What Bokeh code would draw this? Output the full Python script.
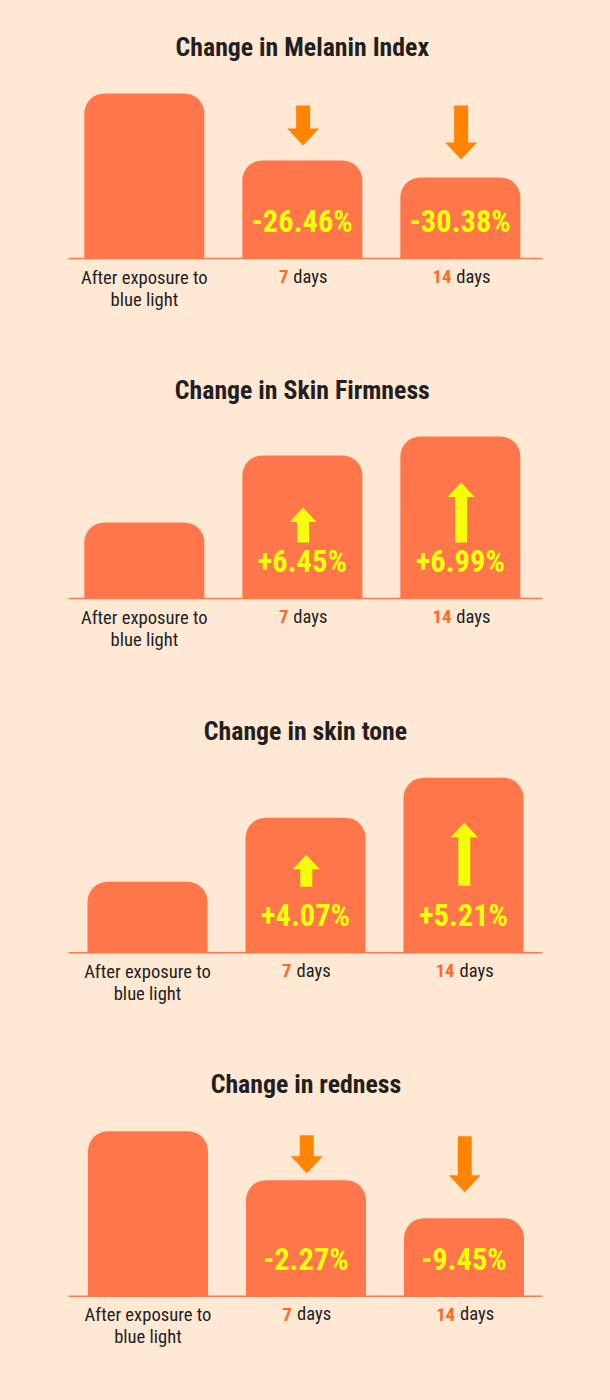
from bokeh.plotting import figure
from bokeh.layouts import column
from bokeh.embed import file_html
from bokeh.resources import INLINE
from bokeh.models import Range1d, Span
from bokeh.core.properties import value

# ---------------- data ----------------
titles = ["Change in Melanin Index", "Change in Skin Firmness", "Change in skin tone", "Change in redness"]
categories = ["After exposure to\nblue light", "7 days", "14 days"]
day_numbers = ["7", "14"]
day_unit = "days"
# relative bar heights (after exposure, 7 days, 14 days)
melanin_bars = [165, 98, 81]
firmness_bars = [76, 143, 162]
tone_bars = [71, 135, 175]
redness_bars = [165, 116, 78]
# printed changes vs. after-exposure
melanin_change = ["-26.46%", "-30.38%"]
firmness_change = ["+6.45%", "+6.99%"]
tone_change = ["+4.07%", "+5.21%"]
redness_change = ["-2.27%", "-9.45%"]

# ---------------- styles ----------------
BG = "#FFE8D4"
BAR = "#FF764A"
DOWN = "#FF8500"
UP = "#F5FF0A"
NUM = "#FF6A2A"
DARK = "#231F1F"
FONT = value("Roboto Condensed")

W = 594
BL, BR = 60, 60
FRAME_W = W - BL - BR
UX = FRAME_W / 3.0  # px per category unit

panels = [
    dict(bars=melanin_bars, change=melanin_change, h=337, lo=-87, hi=250, shift=0.02, title_y=212,
         arrows=[(153, 113), (153, 99)]),
    dict(bars=firmness_bars, change=firmness_change, h=340, lo=-87, hi=253, shift=0.02, title_y=209,
         arrows=[(56, 91), (56, 116)]),
    dict(bars=tone_bars, change=tone_change, h=355, lo=-87.7, hi=267.3, shift=0.0, title_y=222,
         arrows=[(66, 98), (67, 130)]),
    dict(bars=redness_bars, change=redness_change, h=352, lo=-96.3, hi=255.7, shift=-0.003, title_y=212,
         arrows=[(161, 123), (160, 104)]),
]


def arrow_poly(xc, tail, tip, shaft_w, head_w, head_len):
    d = 1 if tip > tail else -1
    base = tip - d * head_len
    sw = shaft_w / 2.0 / UX
    hw = head_w / 2.0 / UX
    xs = [xc - sw, xc - sw, xc - hw, xc, xc + hw, xc + sw, xc + sw]
    ys = [tail, base, base, tip, base, base, tail]
    return xs, ys


figs = []
for i, pn in enumerate(panels):
    p = figure(width=W, height=pn["h"], output_backend="svg", toolbar_location=None,
               x_range=Range1d(pn["shift"], 3 + pn["shift"]), y_range=Range1d(pn["lo"], pn["hi"]),
               min_border_left=BL, min_border_right=BR, min_border_top=0, min_border_bottom=0,
               background_fill_color=BG, border_fill_color=BG, outline_line_color=None)
    p.axis.visible = False
    p.grid.visible = False

    xs = [k + 0.5 for k in range(len(categories))]
    p.vbar(x=xs, top=pn["bars"], bottom=0, width=120.0 / UX, fill_color=BAR, line_color=None,
           border_radius=(20, 20, 0, 0))
    p.add_layout(Span(location=0, dimension="width", line_color="#FF7A4A", line_width=1.5))

    # title
    p.text(x=[1.5], y=[pn["title_y"]], text=[titles[i]], text_font=FONT, text_font_size="25.8px",
           text_font_style="bold", text_color=DARK, text_align="center", text_baseline="alphabetic")

    # change labels
    p.text(x=xs[1:], y=[37, 37], text=pn["change"], text_font=FONT, text_font_size="30.5px",
           text_font_style="bold", text_color=UP, text_align="center", text_baseline="alphabetic")

    # arrows
    down = pn["change"][0].startswith("-")
    axs, ays = [], []
    for k, (tail, tip) in enumerate(pn["arrows"]):
        if down:
            ax, ay = arrow_poly(xs[k + 1] + 0.005, tail, tip, 14, 32, 17)
        else:
            ax, ay = arrow_poly(xs[k + 1] + 0.005, tail, tip, 12, 27, 14.5)
        axs.append(ax)
        ays.append(ay)
    p.patches(xs=axs, ys=ays, fill_color=DOWN if down else UP, line_color=None)

    # category labels
    p.text(x=[xs[0]], y=[-8], text=[categories[0]], text_font=FONT, text_font_size="18.6px",
           text_color=DARK, text_align="center", text_baseline="top", text_line_height=1.0)
    num_x, unit_x = [], []
    for k, num in enumerate(day_numbers):
        c = xs[k + 1]
        total = len(num) * 10 + 5 + 33
        nr = c + (-total / 2.0 + len(num) * 10) / UX
        num_x.append(nr)
        unit_x.append(nr + 5.0 / UX)
    p.text(x=num_x, y=[-18, -18], text=day_numbers, text_font=FONT, text_font_size="18.6px",
           text_font_style="bold", text_color=NUM, text_align="right", text_baseline="alphabetic")
    p.text(x=unit_x, y=[-18, -18], text=[day_unit, day_unit], text_font=FONT, text_font_size="18.6px",
           text_color=DARK, text_align="left", text_baseline="alphabetic")
    figs.append(p)

layout = column(*figs, spacing=0, background=BG)
html = file_html(layout, INLINE, title="Skin changes")
html = html.replace("</head>", "<style>html,body{background:%s;margin:0;}body{margin:8px;}</style></head>" % BG, 1)
open("out.html", "w").write(html)
